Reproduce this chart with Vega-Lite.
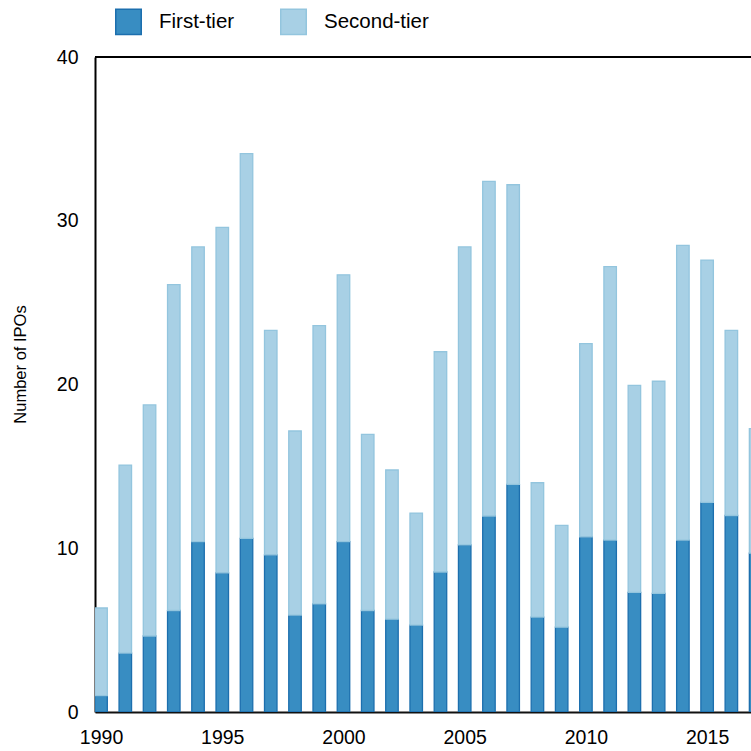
{
  "$schema": "https://vega.github.io/schema/vega-lite/v6.json",
  "autosize": "none",
  "padding": {"left": 95, "top": 57, "right": 0, "bottom": 39},
  "width": 656,
  "height": 655,
  "background": "white",
  "config": {
    "view": {"stroke": null},
    "font": "Liberation Sans",
    "axis": {"grid": false, "ticks": false, "labelColor": "#000", "titleColor": "#000", "domainColor": "#000", "domainWidth": 2}
  },
  "data": {
    "values": [
      {"year": 1990, "tier": "First-tier", "count": 1.0}, {"year": 1990, "tier": "Second-tier", "count": 5.35},
      {"year": 1991, "tier": "First-tier", "count": 3.6}, {"year": 1991, "tier": "Second-tier", "count": 11.48},
      {"year": 1992, "tier": "First-tier", "count": 4.64}, {"year": 1992, "tier": "Second-tier", "count": 14.11},
      {"year": 1993, "tier": "First-tier", "count": 6.2}, {"year": 1993, "tier": "Second-tier", "count": 19.9},
      {"year": 1994, "tier": "First-tier", "count": 10.4}, {"year": 1994, "tier": "Second-tier", "count": 18.0},
      {"year": 1995, "tier": "First-tier", "count": 8.5}, {"year": 1995, "tier": "Second-tier", "count": 21.1},
      {"year": 1996, "tier": "First-tier", "count": 10.6}, {"year": 1996, "tier": "Second-tier", "count": 23.5},
      {"year": 1997, "tier": "First-tier", "count": 9.6}, {"year": 1997, "tier": "Second-tier", "count": 13.7},
      {"year": 1998, "tier": "First-tier", "count": 5.92}, {"year": 1998, "tier": "Second-tier", "count": 11.24},
      {"year": 1999, "tier": "First-tier", "count": 6.6}, {"year": 1999, "tier": "Second-tier", "count": 17.0},
      {"year": 2000, "tier": "First-tier", "count": 10.4}, {"year": 2000, "tier": "Second-tier", "count": 16.3},
      {"year": 2001, "tier": "First-tier", "count": 6.2}, {"year": 2001, "tier": "Second-tier", "count": 10.76},
      {"year": 2002, "tier": "First-tier", "count": 5.67}, {"year": 2002, "tier": "Second-tier", "count": 9.11},
      {"year": 2003, "tier": "First-tier", "count": 5.31}, {"year": 2003, "tier": "Second-tier", "count": 6.84},
      {"year": 2004, "tier": "First-tier", "count": 8.55}, {"year": 2004, "tier": "Second-tier", "count": 13.45},
      {"year": 2005, "tier": "First-tier", "count": 10.2}, {"year": 2005, "tier": "Second-tier", "count": 18.2},
      {"year": 2006, "tier": "First-tier", "count": 11.97}, {"year": 2006, "tier": "Second-tier", "count": 20.43},
      {"year": 2007, "tier": "First-tier", "count": 13.9}, {"year": 2007, "tier": "Second-tier", "count": 18.3},
      {"year": 2008, "tier": "First-tier", "count": 5.8}, {"year": 2008, "tier": "Second-tier", "count": 8.2},
      {"year": 2009, "tier": "First-tier", "count": 5.18}, {"year": 2009, "tier": "Second-tier", "count": 6.22},
      {"year": 2010, "tier": "First-tier", "count": 10.7}, {"year": 2010, "tier": "Second-tier", "count": 11.8},
      {"year": 2011, "tier": "First-tier", "count": 10.5}, {"year": 2011, "tier": "Second-tier", "count": 16.7},
      {"year": 2012, "tier": "First-tier", "count": 7.3}, {"year": 2012, "tier": "Second-tier", "count": 12.65},
      {"year": 2013, "tier": "First-tier", "count": 7.25}, {"year": 2013, "tier": "Second-tier", "count": 12.95},
      {"year": 2014, "tier": "First-tier", "count": 10.5}, {"year": 2014, "tier": "Second-tier", "count": 18.0},
      {"year": 2015, "tier": "First-tier", "count": 12.8}, {"year": 2015, "tier": "Second-tier", "count": 14.8},
      {"year": 2016, "tier": "First-tier", "count": 12.0}, {"year": 2016, "tier": "Second-tier", "count": 11.3},
      {"year": 2017, "tier": "First-tier", "count": 9.7}, {"year": 2017, "tier": "Second-tier", "count": 7.6}
    ]
  },
  "layer": [
    {
      "mark": {"type": "bar", "width": 12.5, "strokeWidth": 1.3, "clip": true},
      "encoding": {
        "x": {
          "field": "year", "type": "quantitative",
          "scale": {"domain": [1989.75, 2016.81], "nice": false, "zero": false, "padding": 0},
          "axis": {"values": [1990, 1995, 2000, 2005, 2010, 2015], "format": "d", "title": null, "labelFontSize": 19.5, "labelPadding": 16, "domainColor": "#111"}
        },
        "y": {
          "field": "count", "type": "quantitative", "stack": "zero",
          "scale": {"domain": [0, 40], "nice": false, "padding": 0},
          "axis": {"values": [0, 10, 20, 30, 40], "title": "Number of IPOs", "titleFontSize": 16.5, "titleFontWeight": "normal", "titleX": -67, "titleY": 307, "labelFontSize": 19.5, "labelPadding": 17}
        },
        "color": {
          "field": "tier", "type": "nominal",
          "scale": {"domain": ["First-tier", "Second-tier"], "range": ["#388dc2", "#a8d0e5"]},
          "legend": {"title": null, "orient": "none", "direction": "horizontal", "legendX": 20, "legendY": -49, "padding": 0, "symbolType": "square", "symbolSize": 650, "symbolStrokeWidth": 1.5, "labelFontSize": 20.5, "labelOffset": 17, "columnPadding": 42, "labelColor": "#000"}
        },
        "stroke": {
          "field": "tier", "type": "nominal",
          "scale": {"domain": ["First-tier", "Second-tier"], "range": ["#1c6fae", "#93c5de"]}
        },
        "order": {"field": "tier", "sort": "ascending"}
      }
    },
    {
      "mark": {"type": "rule", "color": "#000", "strokeWidth": 2},
      "encoding": {"y": {"datum": 40}}
    }
  ]
}
